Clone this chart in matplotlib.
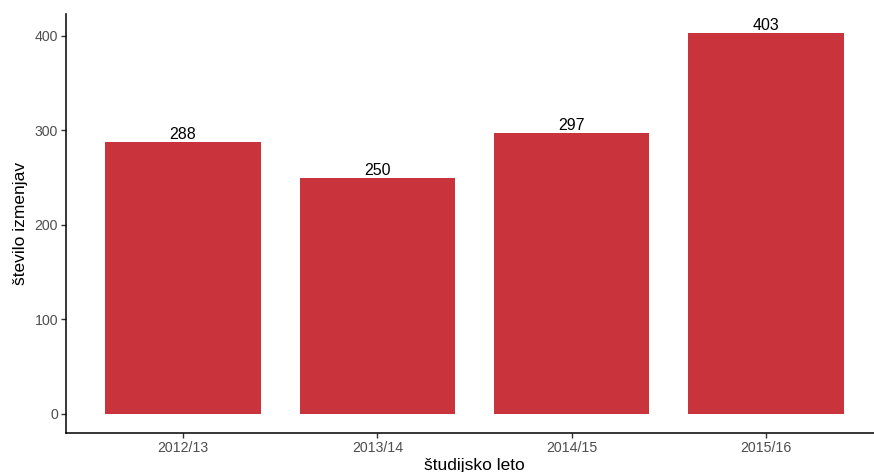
import matplotlib
matplotlib.use("Agg")
import matplotlib.pyplot as plt

plt.rcParams['font.family'] = ['Liberation Sans', 'DejaVu Sans']

categories = ["2012/13", "2013/14", "2014/15", "2015/16"]
values = [288, 250, 297, 403]
yticks = [0, 100, 200, 300, 400]

W, H = 874, 472
fig = plt.figure(figsize=(W / 100, H / 100), dpi=100)
left, right = 66.4, 882.6
top, bottom = 14, 433
ax = fig.add_axes([left / W, (H - bottom) / H, (right - left) / W, (bottom - top) / H])

x = list(range(1, len(categories) + 1))
ax.bar(x, values, width=0.8, color="#C9343C", zorder=2)
for xi, v in zip(x, values):
    ax.text(xi, v, str(v), ha="center", va="bottom", fontsize=11.5, color="black")

ax.set_xlim(0.4, 4.6)
ax.set_ylim(-20.15, 423.15)
ax.set_xticks(x)
ax.set_xticklabels(categories)
ax.set_yticks(yticks)
ax.tick_params(axis="both", labelsize=10.2, labelcolor="#4D4D4D", color="#333333", length=3.5, width=1, pad=2.5)
for s in ["top", "right"]:
    ax.spines[s].set_visible(False)
for s in ["left", "bottom"]:
    ax.spines[s].set_linewidth(1.1)
    ax.spines[s].set_color("black")
ax.set_xlabel("študijsko leto", fontsize=12.5, labelpad=2)
ax.set_ylabel("število izmenjav", fontsize=12.5, labelpad=5)

fig.savefig("out.png", dpi=100)
